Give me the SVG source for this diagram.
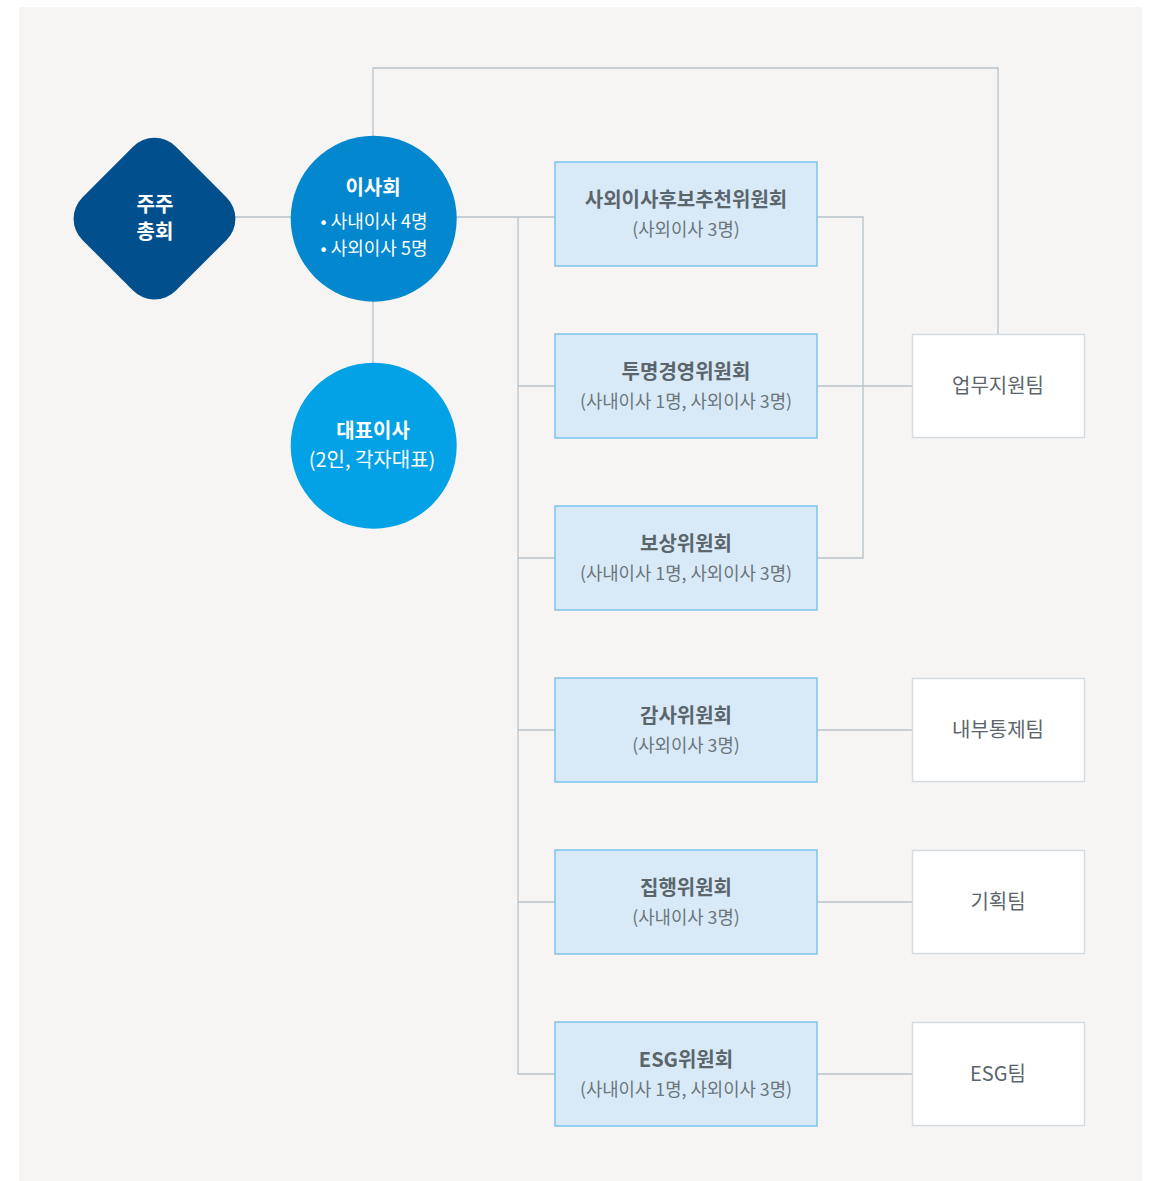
<svg xmlns="http://www.w3.org/2000/svg" width="1154" height="1181" viewBox="0 0 1154 1181">
<style>
text{font-family:"Noto Sans CJK KR","Noto Sans",sans-serif;text-anchor:middle}
.ln{fill:none;stroke:#b7c2ca;stroke-width:1.3}
.cm{fill:#d8eaf7;stroke:#7cc3ee;stroke-width:1.5}
.tm{fill:#ffffff;stroke:#d4dce3;stroke-width:1.5}
.ct{font-size:20px;font-weight:700;fill:#5b656c}
.cs{font-size:17.8px;fill:#6b757c}
.tt{font-size:20px;fill:#5b656c}
.wt{fill:#ffffff}
</style>
<rect x="0" y="0" width="1154" height="1181" fill="#ffffff"/>
<rect x="19" y="7" width="1123" height="1174" fill="#f6f5f3"/>
<g id="connectors">
<polyline class="ln" points="373,136 373,68 998,68 998,335"/>
<line class="ln" x1="234" y1="217" x2="291" y2="217"/>
<line class="ln" x1="456" y1="217" x2="555" y2="217"/>
<line class="ln" x1="373" y1="301" x2="373" y2="363"/>
<polyline class="ln" points="518,217 518,1074 555,1074"/>
<line class="ln" x1="518" y1="386" x2="555" y2="386"/>
<line class="ln" x1="518" y1="558" x2="555" y2="558"/>
<line class="ln" x1="518" y1="730" x2="555" y2="730"/>
<line class="ln" x1="518" y1="902" x2="555" y2="902"/>
<polyline class="ln" points="817,217 863,217 863,558 817,558"/>
<line class="ln" x1="817" y1="386" x2="912" y2="386"/>
<line class="ln" x1="817" y1="730" x2="912" y2="730"/>
<line class="ln" x1="817" y1="902" x2="912" y2="902"/>
<line class="ln" x1="817" y1="1074" x2="912" y2="1074"/>
</g>
<g id="shareholders">
<rect x="88.5" y="152.7" width="132" height="132" rx="30" fill="#024f8d" transform="rotate(45 154.5 218.7)"/>
<text class="wt" x="155" y="212" font-size="20" font-weight="700">주주</text>
<text class="wt" x="155" y="239" font-size="20" font-weight="700">총회</text>
</g>
<g id="board">
<circle cx="373.7" cy="218.7" r="83" fill="#0388d0"/>
<text class="wt" x="373" y="195" font-size="20" font-weight="700">이사회</text>
<text class="wt" x="374" y="228" font-size="18">• 사내이사 4명</text>
<text class="wt" x="374" y="255" font-size="18">• 사외이사 5명</text>
</g>
<g id="ceo">
<circle cx="373.7" cy="445.7" r="83" fill="#03a1e5"/>
<text class="wt" x="373" y="438" font-size="20" font-weight="700">대표이사</text>
<text class="wt" x="372" y="467" font-size="20">(2인, 각자대표)</text>
</g>
<g id="c1">
<rect class="cm" x="555" y="162" width="262" height="104"/>
<text class="ct" x="686" y="207">사외이사후보추천위원회</text>
<text class="cs" x="686" y="236">(사외이사 3명)</text>
</g>
<g id="c2">
<rect class="cm" x="555" y="334" width="262" height="104"/>
<text class="ct" x="686" y="379">투명경영위원회</text>
<text class="cs" x="686" y="408">(사내이사 1명, 사외이사 3명)</text>
</g>
<g id="c3">
<rect class="cm" x="555" y="506" width="262" height="104"/>
<text class="ct" x="686" y="551">보상위원회</text>
<text class="cs" x="686" y="580">(사내이사 1명, 사외이사 3명)</text>
</g>
<g id="c4">
<rect class="cm" x="555" y="678" width="262" height="104"/>
<text class="ct" x="686" y="723">감사위원회</text>
<text class="cs" x="686" y="752">(사외이사 3명)</text>
</g>
<g id="c5">
<rect class="cm" x="555" y="850" width="262" height="104"/>
<text class="ct" x="686" y="895">집행위원회</text>
<text class="cs" x="686" y="924">(사내이사 3명)</text>
</g>
<g id="c6">
<rect class="cm" x="555" y="1022" width="262" height="104"/>
<text class="ct" x="686" y="1067">ESG위원회</text>
<text class="cs" x="686" y="1096">(사내이사 1명, 사외이사 3명)</text>
</g>
<g id="t1">
<rect class="tm" x="912.5" y="334.5" width="172" height="103"/>
<text class="tt" x="998" y="393">업무지원팀</text>
</g>
<g id="t2">
<rect class="tm" x="912.5" y="678.5" width="172" height="103"/>
<text class="tt" x="998" y="737">내부통제팀</text>
</g>
<g id="t3">
<rect class="tm" x="912.5" y="850.5" width="172" height="103"/>
<text class="tt" x="998" y="909">기획팀</text>
</g>
<g id="t4">
<rect class="tm" x="912.5" y="1022.5" width="172" height="103"/>
<text class="tt" x="998" y="1081">ESG팀</text>
</g>
</svg>
